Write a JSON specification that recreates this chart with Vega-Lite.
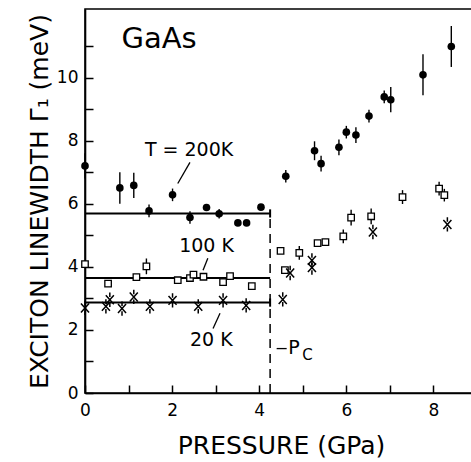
{
  "$schema": "https://vega.github.io/schema/vega-lite/v6.json",
  "width": 392,
  "height": 384,
  "autosize": {"type": "none"},
  "padding": {"left": 85, "top": 9, "right": 0, "bottom": 69},
  "background": "white",
  "config": {
    "font": "DejaVu Sans",
    "view": {"stroke": "black", "strokeWidth": 1.6},
    "axis": {
      "grid": false,
      "domainColor": "black",
      "domainWidth": 1.6,
      "tickColor": "black",
      "tickWidth": 1.5,
      "tickSize": -8,
      "labelColor": "black",
      "labelFontSize": 17,
      "labelFlush": false,
      "titleColor": "black",
      "titleFontSize": 25,
      "titleFontWeight": "normal"
    }
  },
  "datasets": {
    "pts": [
      {"T": "200K", "p": 0, "w": 7.21, "err": 0.4},
      {"T": "200K", "p": 0.8, "w": 6.51, "err": 0.5},
      {"T": "200K", "p": 1.12, "w": 6.59, "err": 0.4},
      {"T": "200K", "p": 1.47, "w": 5.78, "err": 0.2},
      {"T": "200K", "p": 2.01, "w": 6.29, "err": 0.2},
      {"T": "200K", "p": 2.41, "w": 5.57, "err": 0.2},
      {"T": "200K", "p": 2.79, "w": 5.89, "err": 0},
      {"T": "200K", "p": 3.08, "w": 5.69, "err": 0.15},
      {"T": "200K", "p": 3.51, "w": 5.4, "err": 0},
      {"T": "200K", "p": 3.71, "w": 5.4, "err": 0},
      {"T": "200K", "p": 4.04, "w": 5.9, "err": 0},
      {"T": "200K", "p": 4.61, "w": 6.88, "err": 0.2},
      {"T": "200K", "p": 5.27, "w": 7.69, "err": 0.3},
      {"T": "200K", "p": 5.42, "w": 7.28, "err": 0.25},
      {"T": "200K", "p": 5.83, "w": 7.8, "err": 0.25},
      {"T": "200K", "p": 6.0, "w": 8.28, "err": 0.2},
      {"T": "200K", "p": 6.22, "w": 8.19, "err": 0.25},
      {"T": "200K", "p": 6.52, "w": 8.79, "err": 0.2},
      {"T": "200K", "p": 6.87, "w": 9.4, "err": 0.2},
      {"T": "200K", "p": 7.02, "w": 9.31, "err": 0.4},
      {"T": "200K", "p": 7.76, "w": 10.1, "err": 0.65},
      {"T": "200K", "p": 8.41, "w": 11.0, "err": 0.65},
      {"T": "100K", "p": 0, "w": 4.09, "err": 0},
      {"T": "100K", "p": 0.53, "w": 3.47, "err": 0},
      {"T": "100K", "p": 1.18, "w": 3.68, "err": 0},
      {"T": "100K", "p": 1.41, "w": 4.02, "err": 0.25},
      {"T": "100K", "p": 2.13, "w": 3.58, "err": 0},
      {"T": "100K", "p": 2.41, "w": 3.65, "err": 0},
      {"T": "100K", "p": 2.49, "w": 3.76, "err": 0},
      {"T": "100K", "p": 2.72, "w": 3.69, "err": 0},
      {"T": "100K", "p": 3.17, "w": 3.52, "err": 0},
      {"T": "100K", "p": 3.33, "w": 3.71, "err": 0},
      {"T": "100K", "p": 3.83, "w": 3.39, "err": 0},
      {"T": "100K", "p": 4.49, "w": 4.51, "err": 0},
      {"T": "100K", "p": 4.59, "w": 3.9, "err": 0},
      {"T": "100K", "p": 4.92, "w": 4.45, "err": 0.22},
      {"T": "100K", "p": 5.34, "w": 4.76, "err": 0},
      {"T": "100K", "p": 5.52, "w": 4.79, "err": 0},
      {"T": "100K", "p": 5.93, "w": 4.97, "err": 0.22},
      {"T": "100K", "p": 6.11, "w": 5.57, "err": 0.25},
      {"T": "100K", "p": 6.57, "w": 5.61, "err": 0.25},
      {"T": "100K", "p": 7.29, "w": 6.22, "err": 0.22},
      {"T": "100K", "p": 8.13, "w": 6.49, "err": 0.22},
      {"T": "100K", "p": 8.25, "w": 6.28, "err": 0.2},
      {"T": "20K", "p": 0, "w": 2.7, "err": 0},
      {"T": "20K", "p": 0.48, "w": 2.75, "err": 0},
      {"T": "20K", "p": 0.57, "w": 2.96, "err": 0},
      {"T": "20K", "p": 0.85, "w": 2.68, "err": 0},
      {"T": "20K", "p": 1.12, "w": 3.05, "err": 0},
      {"T": "20K", "p": 1.49, "w": 2.75, "err": 0},
      {"T": "20K", "p": 2.01, "w": 2.94, "err": 0},
      {"T": "20K", "p": 2.6, "w": 2.75, "err": 0},
      {"T": "20K", "p": 3.17, "w": 2.94, "err": 0},
      {"T": "20K", "p": 3.7, "w": 2.78, "err": 0},
      {"T": "20K", "p": 4.54, "w": 2.97, "err": 0},
      {"T": "20K", "p": 4.71, "w": 3.81, "err": 0},
      {"T": "20K", "p": 5.21, "w": 4.21, "err": 0},
      {"T": "20K", "p": 5.21, "w": 3.98, "err": 0},
      {"T": "20K", "p": 6.61, "w": 5.11, "err": 0},
      {"T": "20K", "p": 8.32, "w": 5.35, "err": 0}
    ],
    "fits": [
      {"p": 0, "w": 5.7, "p2": 4.25, "w2": 5.7},
      {"p": 0, "w": 3.65, "p2": 4.25, "w2": 3.65},
      {"p": 0, "w": 2.87, "p2": 4.25, "w2": 2.87},
      {"p": 4.25, "w": 5.57, "p2": 4.25, "w2": 5.83},
      {"p": 4.25, "w": 2.74, "p2": 4.25, "w2": 3.0}
    ],
    "leaders": [
      {"p": 2.41, "w": 7.32, "p2": 2.13, "w2": 6.65},
      {"p": 2.82, "w": 4.28, "p2": 2.71, "w2": 3.9},
      {"p": 3.1, "w": 2.53, "p2": 2.94, "w2": 2.05},
      {"p": 4.4, "w": 1.41, "p2": 4.63, "w2": 1.41}
    ],
    "pc": [
      {"p": 4.25, "w": 0, "p2": 4.25, "w2": 5.7}
    ]
  },
  "encoding": {
    "x": {
      "field": "p",
      "type": "quantitative",
      "scale": {"domain": [0, 9], "nice": false, "zero": false},
      "axis": {
        "title": "PRESSURE (GPa)",
        "values": [0, 1, 2, 3, 4, 5, 6, 7, 8],
        "labelExpr": "datum.value % 2 === 0 ? datum.label : ''",
        "labelPadding": 17,
        "titlePadding": 15
      }
    },
    "y": {
      "field": "w",
      "type": "quantitative",
      "scale": {"domain": [0, 12.19], "nice": false, "zero": false},
      "axis": {
        "title": "EXCITON LINEWIDTH Γ₁ (meV)",
        "values": [0, 1, 2, 3, 4, 5, 6, 7, 8, 9, 10, 11],
        "labelExpr": "datum.value % 2 === 0 ? datum.label : ''",
        "labelPadding": 15,
        "titlePadding": 4
      }
    }
  },
  "layer": [
    {
      "data": {"name": "fits"},
      "mark": {"type": "rule", "color": "black", "strokeWidth": 2},
      "encoding": {"x2": {"field": "p2"}, "y2": {"field": "w2"}}
    },
    {
      "data": {"name": "pc"},
      "mark": {"type": "rule", "color": "black", "strokeWidth": 1.5, "strokeDash": [9, 6]},
      "encoding": {"x2": {"field": "p2"}, "y2": {"field": "w2"}}
    },
    {
      "data": {"name": "leaders"},
      "mark": {"type": "rule", "color": "black", "strokeWidth": 1.3},
      "encoding": {"x2": {"field": "p2"}, "y2": {"field": "w2"}}
    },
    {
      "data": {"name": "pts"},
      "transform": [{"filter": "datum.err > 0"}],
      "mark": {"type": "errorbar", "color": "black", "thickness": 1.4},
      "encoding": {"yError": {"field": "err"}}
    },
    {
      "data": {"name": "pts"},
      "transform": [{"filter": "datum.T === '200K'"}],
      "mark": {"type": "point", "shape": "circle", "filled": true, "color": "black", "size": 58, "opacity": 1}
    },
    {
      "data": {"name": "pts"},
      "transform": [{"filter": "datum.T === '100K'"}],
      "mark": {"type": "point", "shape": "square", "fill": "white", "stroke": "black", "strokeWidth": 1.3, "size": 42, "opacity": 1, "fillOpacity": 1}
    },
    {
      "data": {"name": "pts"},
      "transform": [{"filter": "datum.T === '20K'"}],
      "mark": {"type": "point", "shape": "M-0.9,-1L0.9,1M-0.9,1L0.9,-1M0,-1.6L0,-0.6M0,0.6L0,1.6", "filled": false, "stroke": "black", "strokeWidth": 1.5, "size": 80, "opacity": 1}
    },
    {
      "data": {"values": [{"p": 1.7, "w": 11.23, "label": "GaAs"}]},
      "mark": {"type": "text", "fontSize": 29, "color": "black", "align": "center", "baseline": "middle"},
      "encoding": {"text": {"field": "label"}}
    },
    {
      "data": {"values": [
        {"p": 2.39, "w": 7.72, "label": "T = 200K"},
        {"p": 2.79, "w": 4.67, "label": "100 K"},
        {"p": 2.9, "w": 1.69, "label": "20 K"},
        {"p": 4.8, "w": 1.43, "label": "P"}
      ]},
      "mark": {"type": "text", "fontSize": 19, "color": "black", "align": "center", "baseline": "middle"},
      "encoding": {"text": {"field": "label"}}
    },
    {
      "data": {"values": [{"p": 5.11, "w": 1.21, "label": "C"}]},
      "mark": {"type": "text", "fontSize": 15, "color": "black", "align": "center", "baseline": "middle"},
      "encoding": {"text": {"field": "label"}}
    }
  ]
}
